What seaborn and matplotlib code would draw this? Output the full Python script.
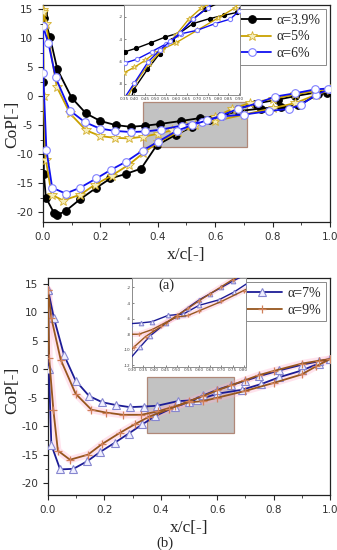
import matplotlib

matplotlib.use("Agg")

import matplotlib.pyplot as plt
import pandas as pd
import seaborn as sns
from matplotlib.patches import Rectangle
from matplotlib.ticker import AutoMinorLocator, MultipleLocator

# ---- panel (a) data -------------------------------------------------------
A39_PS_X = [0.0, 0.005, 0.024, 0.05, 0.10, 0.15, 0.20, 0.253, 0.305, 0.357, 0.409, 0.48,
            0.547, 0.62, 0.68, 0.76, 0.83, 0.89, 0.96, 0.99]
A39_PS_Y = [14.5, 13.5, 10.2, 4.6, -0.3, -3.0, -4.3, -5.0, -5.3, -5.1, -4.8, -4.3,
            -3.8, -3.4, -2.6, -2.15, -1.85, -1.6, 0.3, 0.6]
A39_SS_X = [0.0, 0.001, 0.003, 0.01, 0.039, 0.05, 0.079, 0.129, 0.186, 0.235, 0.29, 0.342,
            0.396, 0.462, 0.52, 0.58, 0.62, 0.68, 0.74, 0.82, 0.88, 0.95, 1.0]
A39_SS_Y = [14.0, 2.5, -13.5, -17.5, -20.2, -20.5, -19.8, -17.8, -15.8, -14.2, -13.4, -12.5,
            -8.5, -6.7, -5.3, -4.1, -3.4, -2.2, -1.3, -0.6, 0.0, 0.6, 0.8]

A5_PS_X = [0.0, 0.01, 0.048, 0.094, 0.15, 0.2, 0.25, 0.3, 0.35, 0.4, 0.45, 0.5, 0.6, 0.7,
           0.8, 0.88, 0.95, 1.0]
A5_PS_Y = [14.8, 12.5, 1.6, -3.0, -5.9, -6.9, -7.2, -7.3, -7.0, -6.5, -5.9, -5.2, -4.3, -3.2,
           -2.1, -1.2, 0.2, 1.0]
A5_SS_X = [0.0, 0.002, 0.01, 0.03, 0.07, 0.13, 0.18, 0.24, 0.3, 0.35, 0.4, 0.47, 0.53,
           0.6, 0.66, 0.72, 0.8, 0.88, 0.95, 1.0]
A5_SS_Y = [14.5, 0.0, -11.0, -17.0, -18.0, -17.0, -15.3, -13.7, -11.8, -9.8, -8.0, -6.2, -5.0,
           -3.6, -2.2, -1.2, -0.5, 0.3, 0.9, 1.2]

A6_PS_X = [0.0, 0.019, 0.044, 0.094, 0.146, 0.198, 0.25, 0.305, 0.357, 0.41, 0.483, 0.553,
           0.625, 0.70, 0.786, 0.858, 0.9, 0.95, 1.0]
A6_PS_Y = [12.0, 9.1, 3.2, -2.5, -4.5, -5.6, -6.0, -6.2, -6.1, -5.8, -5.1, -4.4,
           -3.5, -3.2, -2.6, -2.2, -1.5, 0.2, 1.2]
A6_SS_X = [0.0, 0.0005, 0.012, 0.032, 0.079, 0.129, 0.186, 0.237, 0.29, 0.347, 0.4, 0.466,
           0.52, 0.57, 0.62, 0.68, 0.75, 0.808, 0.878, 0.948, 0.993]
A6_SS_Y = [12.0, 3.9, -9.3, -15.8, -16.8, -15.8, -14.2, -12.7, -11.3, -9.4, -7.9, -6.0,
           -5.0, -4.2, -3.4, -2.2, -1.2, -0.1, 0.47, 1.15, 1.3]

# ---- panel (b) data -------------------------------------------------------
A7_PS_X = [0.0, 0.021, 0.057, 0.098, 0.146, 0.193, 0.243, 0.29, 0.34, 0.388, 0.46, 0.53,
           0.6, 0.688, 0.756, 0.82, 0.9, 0.96, 1.0]
A7_PS_Y = [14.0, 9.0, 2.5, -2.0, -4.7, -5.8, -6.3, -6.65, -6.55, -6.4, -5.6, -5.4,
           -4.3, -3.6, -2.6, -1.4, -0.2, 1.0, 1.8]
A7_SS_X = [0.0, 0.003, 0.012, 0.043, 0.09, 0.138, 0.183, 0.237, 0.286, 0.334, 0.381, 0.45,
           0.5, 0.55, 0.6, 0.65, 0.7, 0.75, 0.82, 0.9, 0.96, 1.0]
A7_SS_Y = [14.0, 0.0, -13.3, -17.6, -17.5, -16.2, -14.6, -12.9, -11.3, -9.7, -8.2, -6.6,
           -5.7, -4.6, -3.6, -2.8, -2.0, -1.2, -0.2, 0.8, 1.4, 1.8]

A9_PS_X = [0.0, 0.012, 0.045, 0.098, 0.154, 0.205, 0.266, 0.33, 0.39, 0.45, 0.5, 0.55,
           0.6, 0.7, 0.8, 0.9, 0.95, 1.0]
A9_PS_Y = [14.0, 9.0, 1.7, -4.3, -7.1, -7.6, -8.0, -8.0, -7.4, -6.5, -5.8, -5.6,
           -5.0, -3.8, -2.4, -0.9, 0.5, 1.8]
A9_SS_X = [0.0, 0.004, 0.019, 0.035, 0.078, 0.142, 0.19, 0.254, 0.31, 0.36, 0.43, 0.5,
           0.55, 0.6, 0.65, 0.7, 0.75, 0.8, 0.9, 0.96, 1.0]
A9_SS_Y = [14.0, 2.0, -7.1, -14.3, -15.9, -15.0, -13.2, -11.2, -9.6, -8.3, -7.0, -5.6,
           -4.7, -3.7, -2.8, -1.9, -1.0, -0.3, 1.0, 1.5, 1.8]

LABELS_A = ["α=3.9%", "α=5%", "α=6%"]
LABELS_B = ["α=7%", "α=9%"]

STYLES = {
    "α=3.9%": dict(color="black", marker="o", markersize=5.5, markerfacecolor="black",
                   markeredgecolor="black"),
    "α=5%": dict(color="#c9a100", marker="*", markersize=7, markerfacecolor="#f6eebb",
                 markeredgecolor="#d4b030", markeredgewidth=0.6),
    "α=6%": dict(color="#1010f0", marker="o", markersize=5.5, markerfacecolor="white",
                 markeredgecolor="#7f7fff", markeredgewidth=0.8),
    "α=7%": dict(color="#1c1c96", marker="^", markersize=6, markerfacecolor="#f0f0ff",
                 markeredgecolor="#8686d0", markeredgewidth=0.8),
    "α=9%": dict(color="#96561e", marker="+", markersize=6, markerfacecolor="none",
                 markeredgecolor="#d0805a", markeredgewidth=0.9),
}

SERIF = ["Liberation Serif", "DejaVu Serif"]


def curve_frame(label, ps_x, ps_y, ss_x, ss_y):
    ps = pd.DataFrame({"x": ps_x, "cp": ps_y, "side": "ps"})
    ss = pd.DataFrame({"x": ss_x, "cp": ss_y, "side": "ss"})
    df = pd.concat([ps, ss], ignore_index=True)
    df["alpha"] = label
    return df


def draw_curves(ax, df, labels, lw=1.3, small=False):
    for label in labels:
        style = dict(STYLES[label])
        if small:
            style["markersize"] = style["markersize"] * 0.55
        sub = df[df["alpha"] == label]
        first = True
        for side in ["ps", "ss"]:
            part = sub[sub["side"] == side]
            if label == "α=9%":
                ax.plot(part["x"], part["cp"], color="#ffb0cc", lw=lw * 4, alpha=0.35,
                        zorder=2, solid_capstyle="round")
            sns.lineplot(x=part["x"].to_numpy(), y=part["cp"].to_numpy(), ax=ax, sort=False,
                         estimator=None, lw=lw, label=label if first else None,
                         zorder=3, **style)
            first = False


def style_main(ax, ylim):
    ax.set_xlim(0, 1.0)
    ax.set_ylim(*ylim)
    ax.xaxis.set_major_locator(MultipleLocator(0.2))
    ax.xaxis.set_minor_locator(MultipleLocator(0.1))
    ax.yaxis.set_major_locator(MultipleLocator(5))
    ax.yaxis.set_minor_locator(AutoMinorLocator(2))
    ax.tick_params(which="major", direction="out", length=3.5, width=0.8, labelsize=7.5,
                   labelcolor="#333333")
    ax.tick_params(which="minor", direction="out", length=2, width=0.6)
    for sp in ax.spines.values():
        sp.set_visible(True)
        sp.set_linewidth(0.9)
        sp.set_color("#222222")
    ax.set_xlabel("x/c[-]", fontsize=12.5, family=SERIF)
    ax.set_ylabel("CoP[-]", fontsize=12.5, family=SERIF)


def style_inset(ax, xlim, ylim, xstep):
    ax.set_xlim(*xlim)
    ax.set_ylim(*ylim)
    ax.xaxis.set_major_locator(MultipleLocator(xstep))
    ax.yaxis.set_major_locator(MultipleLocator(2))
    ax.tick_params(direction="in", length=1.5, width=0.4, labelsize=3, pad=1,
                   labelcolor="#444444")
    ax.set_xlabel("")
    ax.set_ylabel("")
    ax.xaxis.set_major_formatter(plt.FormatStrFormatter("%.2f"))
    ax.yaxis.set_major_formatter(plt.FormatStrFormatter("%d"))
    for sp in ax.spines.values():
        sp.set_visible(True)
        sp.set_linewidth(0.7)
        sp.set_color("#8c8c8c")
    ax.set_facecolor("white")


def add_box(ax, x0, x1, y0, y1):
    ax.add_patch(Rectangle((x0, y0), x1 - x0, y1 - y0, facecolor="#c2c2c2",
                           edgecolor="#b08878", lw=0.9, zorder=1))


def add_legend(ax, labels):
    leg = ax.legend(loc="upper right", fancybox=False, framealpha=1, edgecolor="#8a8a8a",
                    handlelength=2.8, borderaxespad=0.3, labelspacing=0.25,
                    handletextpad=0.4, borderpad=0.35,
                    prop={"family": SERIF, "size": 10})
    leg.get_frame().set_linewidth(0.7)
    leg.set_zorder(10)


def main() -> None:
    sns.set_style("ticks")
    plt.rcParams["font.family"] = ["DejaVu Sans"]
    plt.rcParams["axes.unicode_minus"] = False

    df_a = pd.concat([
        curve_frame("α=3.9%", A39_PS_X, A39_PS_Y, A39_SS_X, A39_SS_Y),
        curve_frame("α=5%", A5_PS_X, A5_PS_Y, A5_SS_X, A5_SS_Y),
        curve_frame("α=6%", A6_PS_X, A6_PS_Y, A6_SS_X, A6_SS_Y),
    ], ignore_index=True)
    df_b = pd.concat([
        curve_frame("α=7%", A7_PS_X, A7_PS_Y, A7_SS_X, A7_SS_Y),
        curve_frame("α=9%", A9_PS_X, A9_PS_Y, A9_SS_X, A9_SS_Y),
    ], ignore_index=True)

    fig = plt.figure(figsize=(3.37, 5.5), dpi=100)

    # panel (a)
    ax_a = fig.add_axes([0.1276, 0.5964, 0.8514, 0.3946])
    add_box(ax_a, 0.35, 0.71, -8.8, -1.1)
    draw_curves(ax_a, df_a, LABELS_A)
    style_main(ax_a, (-21.7, 15.7))
    ax_a.xaxis.set_label_coords(0.5, -0.115)
    ax_a.yaxis.set_label_coords(-0.08, 0.45)
    add_legend(ax_a, LABELS_A)

    ins_a = fig.add_axes([0.368, 0.827, 0.344, 0.1636])
    draw_curves(ins_a, df_a, LABELS_A, lw=1.0, small=True)
    if ins_a.get_legend() is not None:
        ins_a.get_legend().remove()
    style_inset(ins_a, (0.35, 0.905), (-9.0, -0.95), 0.05)

    fig.text(0.495, 0.482, "(a)", ha="center", va="center", fontsize=10.5, family=SERIF)

    # panel (b)
    ax_b = fig.add_axes([0.1424, 0.10, 0.8366, 0.3945])
    add_box(ax_b, 0.35, 0.66, -11.2, -1.35)
    draw_curves(ax_b, df_b, LABELS_B)
    style_main(ax_b, (-22.1, 16.05))
    ax_b.xaxis.set_label_coords(0.5, -0.115)
    ax_b.yaxis.set_label_coords(-0.1, 0.48)
    add_legend(ax_b, LABELS_B)

    ins_b = fig.add_axes([0.392, 0.3327, 0.338, 0.1618])
    draw_curves(ins_b, df_b, LABELS_B, lw=1.0, small=True)
    if ins_b.get_legend() is not None:
        ins_b.get_legend().remove()
    style_inset(ins_b, (0.30, 0.81), (-12.2, -0.8), 0.05)

    fig.text(0.49, 0.013, "(b)", ha="center", va="center", fontsize=10.5, family=SERIF)

    fig.savefig("out.png", dpi=100)
    plt.close(fig)


if __name__ == "__main__":
    main()
